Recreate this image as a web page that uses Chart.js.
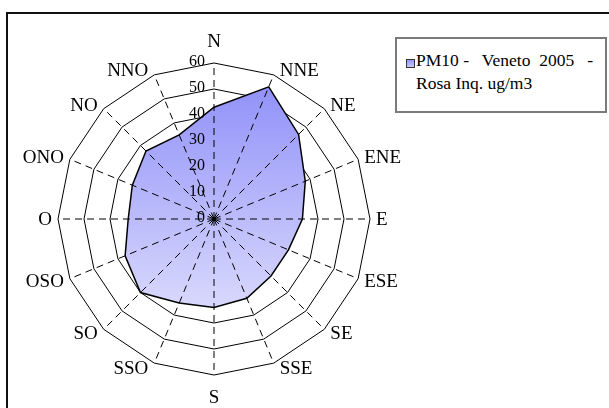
<!DOCTYPE html>
<html><head><meta charset="utf-8">
<script src="https://cdn.jsdelivr.net/npm/chart.js@4/dist/chart.umd.min.js"></script>
<style>
html,body{margin:0;padding:0;background:#fff;width:609px;height:408px;overflow:hidden;}
#frame{position:absolute;left:6px;top:12px;width:700px;height:500px;border-left:2px solid #111;border-top:2px solid #111;}
#c{position:absolute;left:0;top:0;}
#legend{position:absolute;left:395px;top:37px;width:208px;height:72px;border:2px solid #7a7a7a;background:#fff;font-family:"Liberation Serif",serif;font-size:17.5px;color:#000;}
#legend .sq{position:absolute;left:9px;top:20px;width:7px;height:7px;border:1px solid #333;background:linear-gradient(#9494f9,#c8c8fc);}
#legend .txt{position:absolute;left:19px;top:10px;line-height:23px;white-space:pre;}
</style></head>
<body>
<div id="frame"></div>
<canvas id="c" width="609" height="408"></canvas>
<div id="legend"><div class="sq"></div><div class="txt" id="ltxt"></div></div>
<script>
const directions = ['N','NNE','NE','ENE','E','ESE','SE','SSE','S','SSO','SO','OSO','O','ONO','NO','NNO'];
const pm10 = [43,55,46,38,34,31,31,33,34,35,40,37,33,34,37,35];
const tickValues = [0,10,20,30,40,50,60];
const legendLines = ['PM10 -   Veneto  2005   -','Rosa Inq. ug/m3'];

document.getElementById('ltxt').textContent = legendLines.join('\n');

const overlay = {
  id:'overlay',
  afterDatasetsDraw(chart){
    const s = chart.scales.r, ctx = chart.ctx;
    const top = tickValues[tickValues.length-1];
    ctx.save();
    ctx.strokeStyle = '#000';
    ctx.lineWidth = 1;
    ctx.setLineDash([7,5]);
    for (let i = 0; i < directions.length; i++) {
      const p = s.getPointPositionForValue(i, top);
      ctx.beginPath();
      ctx.moveTo(s.xCenter, s.yCenter);
      ctx.lineTo(p.x, p.y);
      ctx.stroke();
    }
    ctx.setLineDash([]);
    ctx.fillStyle = '#000';
    ctx.font = '16px "Liberation Serif"';
    ctx.textAlign = 'right';
    ctx.textBaseline = 'middle';
    tickValues.forEach(v => {
      const p = s.getPointPositionForValue(0, v);
      ctx.fillText(String(v), p.x - 9, p.y - 1);
    });
    ctx.font = '19px "Liberation Serif"';
    for (let i = 0; i < directions.length; i++) {
      const a = s.getIndexAngle(i);
      const sn = Math.sin(a), cs = Math.cos(a);
      const p = s.getPointPositionForValue(i, top);
      let x, y;
      if (Math.abs(sn) < 0.01) {
        ctx.textAlign = 'center';
        x = p.x; y = p.y - cs * 22 + 1;
      } else {
        ctx.textAlign = sn > 0 ? 'left' : 'right';
        x = p.x + (sn > 0 ? 6 : -6);
        y = p.y - 5 * cs + 1;
      }
      ctx.fillText(directions[i], x, y);
    }
    ctx.restore();
  }
};

function fillGradient(context){
  const chart = context.chart;
  const s = chart.scales && chart.scales.r;
  if (!s || !chart.chartArea) return '#b4b4fb';
  let minY = Infinity, maxY = -Infinity;
  pm10.forEach((v,i) => { const p = s.getPointPositionForValue(i, v); minY = Math.min(minY,p.y); maxY = Math.max(maxY,p.y); });
  if (!isFinite(minY) || maxY - minY < 1) return '#b4b4fb';
  const g = chart.ctx.createLinearGradient(0, minY, 0, maxY);
  g.addColorStop(0, '#9292f9');
  g.addColorStop(1, '#d8d8fd');
  return g;
}

new Chart(document.getElementById('c'), {
  type:'radar',
  data:{ labels: directions, datasets:[{
    label: legendLines.join(' '),
    data: pm10,
    borderColor:'#000',
    borderWidth:1.5,
    pointRadius:0,
    pointHoverRadius:0,
    fill:true,
    backgroundColor: fillGradient
  }]},
  options:{
    responsive:false,
    animation:false,
    devicePixelRatio:1,
    layout:{padding:{left:58,right:239,top:63,bottom:33}},
    plugins:{legend:{display:false},tooltip:{enabled:false}},
    scales:{ r:{
      min:0, max:60,
      ticks:{display:false, stepSize:10},
      grid:{color:'#000', lineWidth:1, circular:false},
      angleLines:{display:false},
      pointLabels:{display:false}
    }}
  },
  plugins:[overlay]
});
</script>
</body></html>
